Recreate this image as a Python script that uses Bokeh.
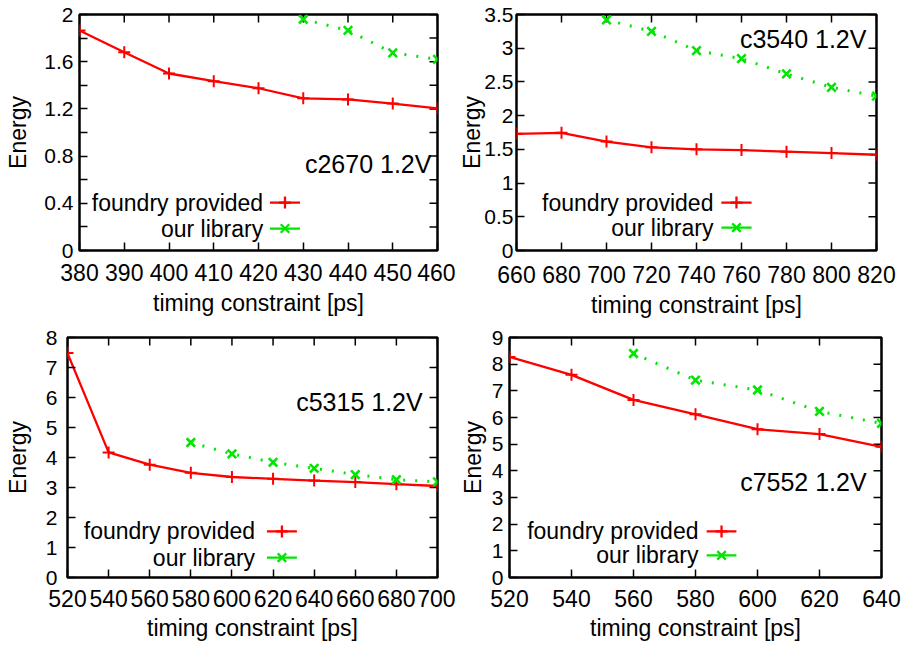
from bokeh.plotting import figure
from bokeh.models import FixedTicker, PrintfTickFormatter, Range1d, Label
from bokeh.layouts import row, column
from bokeh.embed import file_html
from bokeh.resources import INLINE

FONT = "Liberation Sans"
RED = "#ff0000"
GREEN = "#00e600"

# ---------------- data ----------------
# c2670 1.2V
c2670_x_found = [380, 390, 400, 410, 420, 430, 440, 450, 460]
c2670_found = [1.865, 1.68, 1.50, 1.435, 1.375, 1.29, 1.28, 1.245, 1.205]
c2670_x_lib = [430, 440, 450, 460]
c2670_lib = [1.96, 1.865, 1.675, 1.62]
c2670_xticks = [380, 390, 400, 410, 420, 430, 440, 450, 460]
c2670_yticks = [0, 0.4, 0.8, 1.2, 1.6, 2]
c2670_yminor = [0.2, 0.6, 1.0, 1.4, 1.8]

# c3540 1.2V
c3540_x_found = [660, 680, 700, 720, 740, 760, 780, 800, 820]
c3540_found = [1.73, 1.745, 1.615, 1.53, 1.50, 1.49, 1.465, 1.445, 1.42]
c3540_x_lib = [700, 720, 740, 760, 780, 800, 820]
c3540_lib = [3.42, 3.25, 2.965, 2.845, 2.62, 2.42, 2.29]
c3540_xticks = [660, 680, 700, 720, 740, 760, 780, 800, 820]
c3540_yticks = [0, 0.5, 1, 1.5, 2, 2.5, 3, 3.5]
c3540_yminor = []

# c5315 1.2V
c5315_x_found = [520, 540, 560, 580, 600, 620, 640, 660, 680, 700]
c5315_found = [7.48, 4.17, 3.76, 3.49, 3.35, 3.29, 3.23, 3.18, 3.11, 3.05]
c5315_x_lib = [580, 600, 620, 640, 660, 680, 700]
c5315_lib = [4.5, 4.12, 3.84, 3.64, 3.43, 3.26, 3.19]
c5315_xticks = [520, 540, 560, 580, 600, 620, 640, 660, 680, 700]
c5315_yticks = [0, 1, 2, 3, 4, 5, 6, 7, 8]
c5315_yminor = []

# c7552 1.2V
c7552_x_found = [520, 540, 560, 580, 600, 620, 640]
c7552_found = [8.27, 7.6, 6.66, 6.12, 5.56, 5.38, 4.9]
c7552_x_lib = [560, 580, 600, 620, 640]
c7552_lib = [8.4, 7.4, 7.03, 6.23, 5.78]
c7552_xticks = [520, 540, 560, 580, 600, 620, 640]
c7552_yticks = [0, 1, 2, 3, 4, 5, 6, 7, 8, 9]
c7552_yminor = []

SERIES_NAMES = ["foundry provided", "our library"]
X_LABEL = "timing constraint [ps]"
Y_LABEL = "Energy"

TICK_LEN = 8


def style_axis(ax, ticks, minor, font_size, standoff):
    ax.ticker = FixedTicker(ticks=ticks, minor_ticks=minor)
    ax.formatter = PrintfTickFormatter(format="%g")
    ax.major_tick_in = TICK_LEN
    ax.major_tick_out = 0
    ax.minor_tick_in = TICK_LEN
    ax.minor_tick_out = 0
    ax.major_tick_line_color = "black"
    ax.minor_tick_line_color = "black"
    ax.major_tick_line_width = 1.5
    ax.minor_tick_line_width = 1.5
    ax.axis_line_color = None
    ax.major_label_text_font = FONT
    ax.major_label_text_color = "black"
    ax.major_label_text_font_size = font_size
    ax.major_label_standoff = standoff


def make_panel(name, xf, yf, xl, yl, xticks, yticks, yminor, lay):
    x0, x1 = xticks[0], xticks[-1]
    y0, y1 = yticks[0], yticks[-1]
    fw = lay["w"] - lay["bl"] - lay["br"]
    fh = lay["h"] - lay["bt"] - lay["bb"]
    p = figure(width=lay["w"], height=lay["h"],
               x_range=Range1d(x0, x1), y_range=Range1d(y0, y1),
               output_backend="svg", toolbar_location=None,
               min_border_left=lay["bl"], min_border_right=lay["br"],
               min_border_top=lay["bt"], min_border_bottom=lay["bb"])
    p.outline_line_color = "black"
    p.outline_line_width = 2.5
    p.xgrid.visible = False
    p.ygrid.visible = False
    p.background_fill_color = "white"
    p.border_fill_color = "white"

    xa = p.xaxis[0]
    ya = p.yaxis[0]
    style_axis(xa, xticks, [], "23px", lay["xs"])
    style_axis(ya, yticks, yminor, "21px", lay["ys"])
    xa.axis_label = X_LABEL
    ya.axis_label = Y_LABEL
    for ax, st in ((xa, lay["xls"]), (ya, lay["yls"])):
        ax.axis_label_text_font = FONT
        ax.axis_label_text_font_size = "23px"
        ax.axis_label_text_font_style = "normal"
        ax.axis_label_text_color = "black"
        ax.axis_label_standoff = st

    # mirrored inward ticks on the top and right edges of the frame
    dy = TICK_LEN / fh * (y1 - y0)
    dx = TICK_LEN / fw * (x1 - x0)
    p.segment(x0=xticks, y0=[y1] * len(xticks), x1=xticks, y1=[y1 - dy] * len(xticks),
              line_color="black", line_width=1.5)
    ry = list(yticks) + list(yminor)
    p.segment(x0=[x1] * len(ry), y0=ry, x1=[x1 - dx] * len(ry), y1=ry,
              line_color="black", line_width=1.5)

    # data
    p.line(xf, yf, line_color=RED, line_width=2.3)
    p.scatter(xf, yf, marker="cross", size=12, line_color=RED, line_width=2)
    p.line(xl, yl, line_color=GREEN, line_width=3, line_dash="2 10")
    p.scatter(xl, yl, marker="x", size=12, line_color=GREEN, line_width=2.6)

    def fx(f):
        return x0 + f * (x1 - x0)

    def fy(f):
        return y0 + f * (y1 - y0)

    # annotation
    p.add_layout(Label(x=fx(lay["ax"]), y=fy(lay["ay"]), text=name,
                       text_align="right", text_baseline="middle",
                       text_font=FONT, text_font_size="25px", text_color="black"))
    # legend (text on the left, sample on the right)
    colors = [RED, GREEN]
    markers = ["cross", "x"]
    for i, lbl in enumerate(SERIES_NAMES):
        yy = fy(lay["ly"][i])
        p.add_layout(Label(x=fx(lay["lx"]), y=yy, text=lbl,
                           text_align="right", text_baseline="middle",
                           text_font=FONT, text_font_size="23px", text_color="black"))
        p.line([fx(lay["sx"][0]), fx(lay["sx"][1])], [yy, yy],
               line_color=colors[i], line_width=2.3)
        p.scatter([fx((lay["sx"][0] + lay["sx"][1]) / 2)], [yy], marker=markers[i],
                  size=12, line_color=colors[i], line_width=2.3)
    return p


L1 = dict(w=455, h=322, bl=79, br=18, bt=14, bb=71, xs=13, ys=6, xls=6, yls=10,
          ax=0.983, ay=0.367, lx=0.513, ly=[0.203, 0.093], sx=[0.532, 0.616])
L2 = dict(w=457, h=322, bl=61, br=36, bt=13, bb=72, xs=15, ys=3, xls=6, yls=-4,
          ax=0.972, ay=0.895, lx=0.547, ly=[0.203, 0.097], sx=[0.569, 0.653])
L3 = dict(w=455, h=323, bl=67, br=18, bt=15, bb=68, xs=12, ys=10, xls=5, yls=12,
          ax=0.96, ay=0.733, lx=0.507, ly=[0.192, 0.083], sx=[0.539, 0.62])
L4 = dict(w=457, h=323, bl=54, br=31, bt=15, bb=68, xs=12, ys=6, xls=5, yls=3,
          ax=0.96, ay=0.40, lx=0.508, ly=[0.192, 0.092], sx=[0.53, 0.61])

p1 = make_panel("c2670 1.2V", c2670_x_found, c2670_found, c2670_x_lib, c2670_lib,
                c2670_xticks, c2670_yticks, c2670_yminor, L1)
p2 = make_panel("c3540 1.2V", c3540_x_found, c3540_found, c3540_x_lib, c3540_lib,
                c3540_xticks, c3540_yticks, c3540_yminor, L2)
p3 = make_panel("c5315 1.2V", c5315_x_found, c5315_found, c5315_x_lib, c5315_lib,
                c5315_xticks, c5315_yticks, c5315_yminor, L3)
p4 = make_panel("c7552 1.2V", c7552_x_found, c7552_found, c7552_x_lib, c7552_lib,
                c7552_xticks, c7552_yticks, c7552_yminor, L4)

layout = column(row(p1, p2), row(p3, p4))
open("out.html", "w").write(file_html(layout, INLINE))
